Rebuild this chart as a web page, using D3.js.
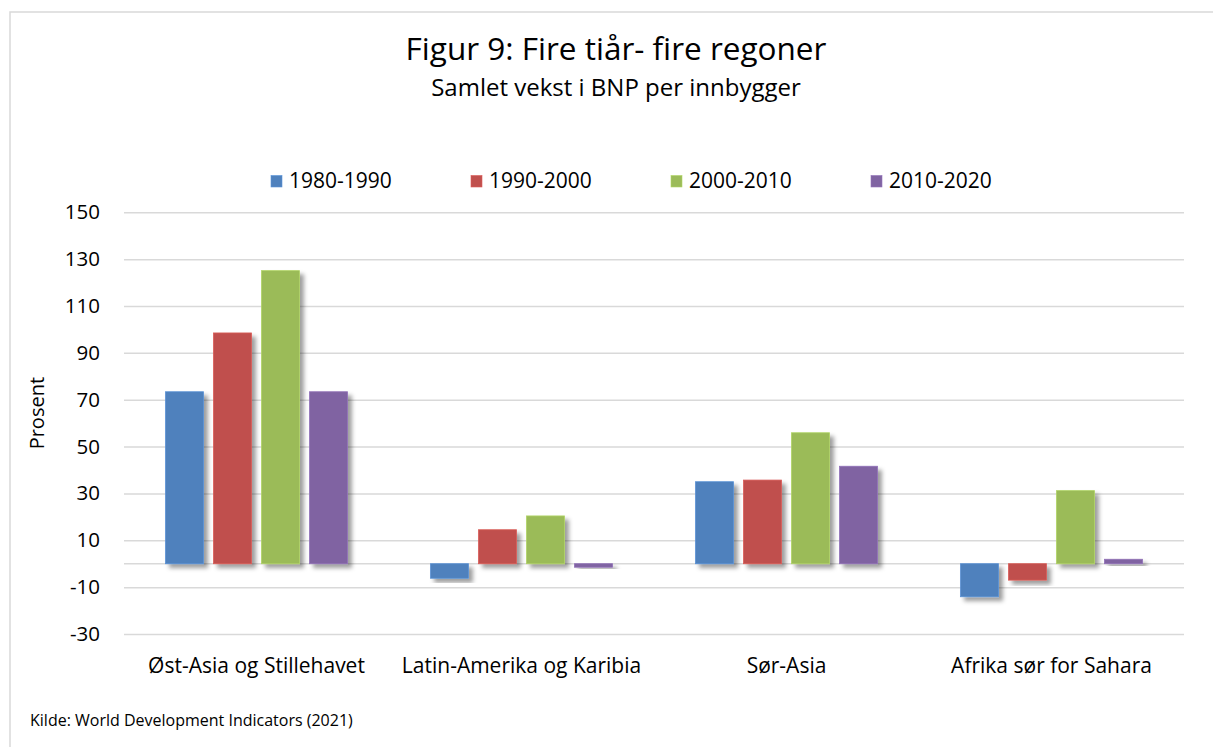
<!DOCTYPE html>
<html>
<head>
<meta charset="utf-8">
<script src="https://cdn.jsdelivr.net/npm/d3@7"></script>
<style>
  html, body { margin: 0; padding: 0; background: #ffffff; }
  svg { display: block; font-family: "Open Sans", "Noto Sans", sans-serif; }
</style>
</head>
<body>
<svg id="chart" width="1213" height="747"></svg>
<script>
// ---- Data ----
const categories = ["Øst-Asia og Stillehavet", "Latin-Amerika og Karibia", "Sør-Asia", "Afrika sør for Sahara"];
const seriesNames = ["1980-1990", "1990-2000", "2000-2010", "2010-2020"];
const values1980 = [73.4, -6.2, 35.0, -14.1];
const values1990 = [98.5, 14.5, 35.7, -7.0];
const values2000 = [125.1, 20.4, 55.9, 31.2];
const values2010 = [73.4, -1.5, 41.6, 1.9];
const yTicks = [-30, -10, 10, 30, 50, 70, 90, 110, 130, 150];
const colors = ["#4F81BD", "#C0504D", "#9BBB59", "#8064A2"];

const titleText = "Figur 9: Fire tiår- fire regoner";
const subtitleText = "Samlet vekst i BNP per innbygger";
const yLabel = "Prosent";
const sourceText = "Kilde: World Development Indicators (2021)";

const seriesValues = [values1980, values1990, values2000, values2010];

// ---- Layout ----
const svg = d3.select("#chart");
const plotLeft = 124, plotRight = 1184, plotTop = 212.3, plotBottom = 634;

const y = d3.scaleLinear().domain([-30, 150]).range([plotBottom, plotTop]);
const x0 = d3.scaleBand().domain(categories).range([plotLeft, plotRight]).padding(0);
const groupWidth = x0.bandwidth() * 0.687;
const x1 = d3.scaleBand().domain(seriesNames).range([0, groupWidth]).paddingInner(0.208).paddingOuter(0);
const color = d3.scaleOrdinal().domain(seriesNames).range(colors);

// shadow filter
const defs = svg.append("defs");
const f = defs.append("filter").attr("id", "shadow")
  .attr("x", "-20%").attr("y", "-20%").attr("width", "150%").attr("height", "150%");
f.append("feDropShadow").attr("dx", 4).attr("dy", 4).attr("stdDeviation", 2)
  .attr("flood-color", "#000").attr("flood-opacity", 0.38);

// frame
svg.append("rect").attr("x", 10).attr("y", 12).attr("width", 1240).attr("height", 760)
  .attr("fill", "#ffffff").attr("stroke", "#d9d9d9").attr("stroke-width", 1.5);

// title
svg.append("text").attr("x", 616).attr("y", 60).attr("text-anchor", "middle")
  .attr("font-size", 31.5).attr("fill", "#000").text(titleText);
svg.append("text").attr("x", 616).attr("y", 96).attr("text-anchor", "middle")
  .attr("font-size", 24).attr("fill", "#000").text(subtitleText);

// gridlines + y axis
const yAxis = d3.axisLeft(y).tickValues(yTicks).tickSize(0).tickPadding(0).tickFormat(d => String(d));
const gy = svg.append("g").attr("transform", `translate(${plotLeft},0)`).call(yAxis);
gy.select(".domain").remove();
gy.selectAll(".tick text").attr("x", 100 - plotLeft).attr("font-size", 20.5)
  .attr("font-family", "Open Sans").attr("fill", "#000").attr("text-anchor", "end");
gy.selectAll(".tick").append("line").attr("x1", 0).attr("x2", plotRight - plotLeft)
  .attr("stroke", "#d9d9d9").attr("stroke-width", 1.5);

// zero axis line
svg.append("line").attr("x1", plotLeft).attr("x2", plotRight).attr("y1", y(0)).attr("y2", y(0))
  .attr("stroke", "#d9d9d9").attr("stroke-width", 1.5);

// y label
svg.append("text").attr("transform", `translate(44, ${(plotTop + plotBottom) / 2 - 10}) rotate(-90)`)
  .attr("text-anchor", "middle").attr("font-size", 20).attr("fill", "#000").text(yLabel);

// bars
const rows = [];
categories.forEach((c, ci) => {
  seriesNames.forEach((s, si) => rows.push({ cat: c, series: s, value: seriesValues[si][ci] }));
});
const groupOffset = (x0.bandwidth() - groupWidth) / 2;
svg.append("g").selectAll("rect").data(rows).join("rect")
  .attr("x", d => x0(d.cat) + groupOffset + x1(d.series))
  .attr("y", d => y(Math.max(0, d.value)))
  .attr("width", x1.bandwidth())
  .attr("height", d => Math.abs(y(d.value) - y(0)))
  .attr("fill", d => color(d.series))
  .attr("stroke", d => d3.color(color(d.series)).brighter(0.35))
  .attr("stroke-width", 0.8)
  .attr("filter", "url(#shadow)");

// category labels
const xAxis = d3.axisBottom(x0).tickSize(0).tickPadding(0);
const gx = svg.append("g").attr("transform", `translate(0,${plotBottom})`).call(xAxis);
gx.select(".domain").remove();
gx.selectAll(".tick text").attr("y", 39).attr("dy", 0).attr("font-size", 21)
  .attr("font-family", "Open Sans").attr("fill", "#000");

// legend
const legend = svg.append("g").selectAll("g").data(seriesNames).join("g")
  .attr("transform", (d, i) => `translate(${271 + i * 200}, 0)`);
legend.append("rect").attr("x", 0).attr("y", 175.5).attr("width", 11).attr("height", 11.5)
  .attr("fill", d => color(d)).attr("stroke", d => d3.color(color(d)).brighter(0.4)).attr("stroke-width", 0.6);
legend.append("text").attr("x", 18).attr("y", 188).attr("font-size", 21).attr("fill", "#000").text(d => d);

// source
svg.append("text").attr("x", 30).attr("y", 726).attr("font-size", 16).attr("fill", "#000").text(sourceText);
</script>
</body>
</html>
